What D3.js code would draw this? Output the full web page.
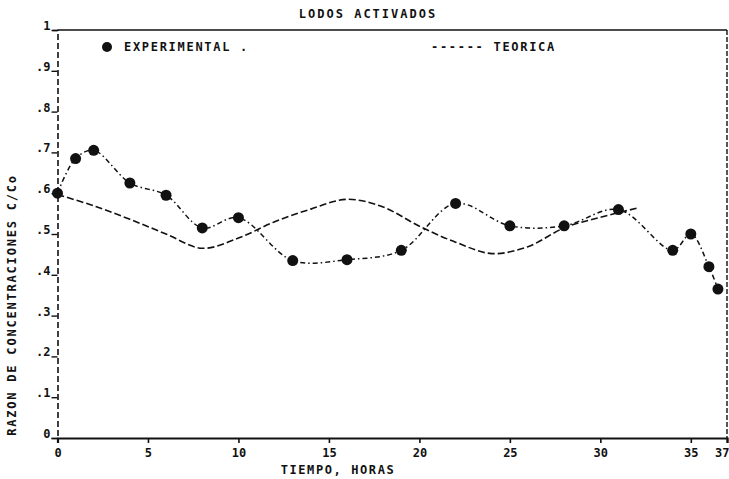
<!DOCTYPE html>
<html>
<head>
<meta charset="utf-8">
<script src="https://cdn.jsdelivr.net/npm/d3@7"></script>
<style>
  html, body { margin: 0; padding: 0; background: #fff; }
  svg { display: block; }
  text { font-family: "DejaVu Sans Mono", "Liberation Mono", monospace; font-weight: bold; fill: #111; }
</style>
</head>
<body>
<svg id="chart" width="729" height="479"></svg>
<script>
// Experimental measurements: time (hours) and concentration ratio C/Co
const expTime  = [0, 1, 2, 4, 6, 8, 10, 13, 16, 19, 22, 25, 28, 31, 34, 35, 36, 36.5];
const expRatio = [0.60, 0.685, 0.705, 0.625, 0.595, 0.515, 0.54, 0.435, 0.437, 0.46,
                  0.575, 0.52, 0.52, 0.56, 0.46, 0.50, 0.42, 0.365];

// Theoretical model curve
const theoTime  = [0, 2, 4, 6, 8, 10, 12, 14, 16, 18, 20, 22, 24, 26, 28, 30, 32];
const theoRatio = [0.597, 0.569, 0.536, 0.500, 0.465, 0.490, 0.530, 0.561, 0.585,
                   0.566, 0.519, 0.480, 0.452, 0.469, 0.515, 0.541, 0.563];

// Axis ticks and labels
const xTicks = [0, 5, 10, 15, 20, 25, 30, 35, 37];
const yTicks = [0, 0.1, 0.2, 0.3, 0.4, 0.5, 0.6, 0.7, 0.8, 0.9, 1];
const yTickLabels = ["0", ".1", ".2", ".3", ".4", ".5", ".6", ".7", ".8", ".9", "1"];

const svg = d3.select("#chart");
const plotL = 57.5, plotR = 727, plotT = 30, plotB = 438;

const x = d3.scaleLinear().domain([0, 37]).range([plotL, plotR]);
const y = d3.scaleLinear().domain([0, 1]).range([plotB, plotT]);

// Title
svg.append("text").attr("x", 368).attr("y", 18).attr("text-anchor", "middle")
  .attr("font-size", 12).attr("letter-spacing", 2).text("LODOS ACTIVADOS");

// Frame: top solid, right dashed
svg.append("line").attr("x1", plotL).attr("x2", plotR).attr("y1", plotT).attr("y2", plotT)
  .attr("stroke", "#111").attr("stroke-width", 1.6);
svg.append("line").attr("x1", plotR).attr("x2", plotR).attr("y1", plotT).attr("y2", plotB)
  .attr("stroke", "#111").attr("stroke-width", 1.4).attr("stroke-dasharray", "5,2");

// X axis
const xAxis = d3.axisBottom(x).tickValues(xTicks).tickSize(5).tickFormat(d3.format("d"));
const gx = svg.append("g").attr("transform", `translate(0,${plotB})`).call(xAxis);
gx.select(".domain").attr("stroke", "#111").attr("stroke-width", 2.2);
gx.selectAll(".tick line").attr("stroke", "#111").attr("stroke-width", 1.6);
gx.selectAll(".tick text").attr("font-size", 12).attr("dy", "0.95em")
  .attr("font-family", "DejaVu Sans Mono").attr("font-weight", "bold").attr("fill", "#111");
// last label sits against the right edge of the page
gx.selectAll(".tick text").filter(d => d === 37)
  .attr("text-anchor", "end").attr("x", 729 - x(37));

// Y axis
const yAxis = d3.axisLeft(y).tickValues(yTicks).tickSize(6)
  .tickFormat((d, i) => yTickLabels[i]);
const gy = svg.append("g").attr("transform", `translate(${plotL},0)`).call(yAxis);
gy.select(".domain").attr("stroke", "#111").attr("stroke-width", 1.6)
  .attr("stroke-dasharray", "6,3");
gy.selectAll(".tick line").attr("stroke", "#111").attr("stroke-width", 1.4);
gy.selectAll(".tick text").attr("font-size", 12).attr("dy", "-0.05em").attr("x", -7)
  .attr("font-family", "DejaVu Sans Mono").attr("font-weight", "bold").attr("fill", "#111");

// Axis titles
svg.append("text").attr("x", 338).attr("y", 474).attr("text-anchor", "middle")
  .attr("font-size", 12).attr("letter-spacing", 1.6).text("TIEMPO, HORAS");
svg.append("text").attr("transform", "translate(16,305) rotate(-90)")
  .attr("text-anchor", "middle").attr("font-size", 12).attr("letter-spacing", 1.8)
  .text("RAZON DE CONCENTRACIONES C/Co");

// Theoretical curve
const theoData = theoTime.map((t, i) => [t, theoRatio[i]]);
const theoLine = d3.line().x(d => x(d[0])).y(d => y(d[1])).curve(d3.curveCatmullRom.alpha(0.5));
svg.append("path").datum(theoData).attr("d", theoLine)
  .attr("fill", "none").attr("stroke", "#111").attr("stroke-width", 1.6)
  .attr("stroke-dasharray", "7,3");

// Experimental curve and points
const expData = expTime.map((t, i) => [t, expRatio[i]]);
const expLine = d3.line().x(d => x(d[0])).y(d => y(d[1])).curve(d3.curveCatmullRom.alpha(0.5));
svg.append("path").datum(expData).attr("d", expLine)
  .attr("fill", "none").attr("stroke", "#111").attr("stroke-width", 1.5)
  .attr("stroke-dasharray", "5,3,1.5,3");
svg.append("g").selectAll("circle").data(expData).join("circle")
  .attr("cx", d => x(d[0])).attr("cy", d => y(d[1])).attr("r", 5.5).attr("fill", "#111");

// Legend
svg.append("circle").attr("cx", 107).attr("cy", 47).attr("r", 5).attr("fill", "#111");
svg.append("text").attr("x", 124).attr("y", 51).attr("font-size", 12)
  .attr("letter-spacing", 1.7).text("EXPERIMENTAL .");
svg.append("text").attr("x", 431).attr("y", 51).attr("font-size", 12)
  .attr("letter-spacing", 1.7).text("------ TEORICA");
</script>
</body>
</html>
